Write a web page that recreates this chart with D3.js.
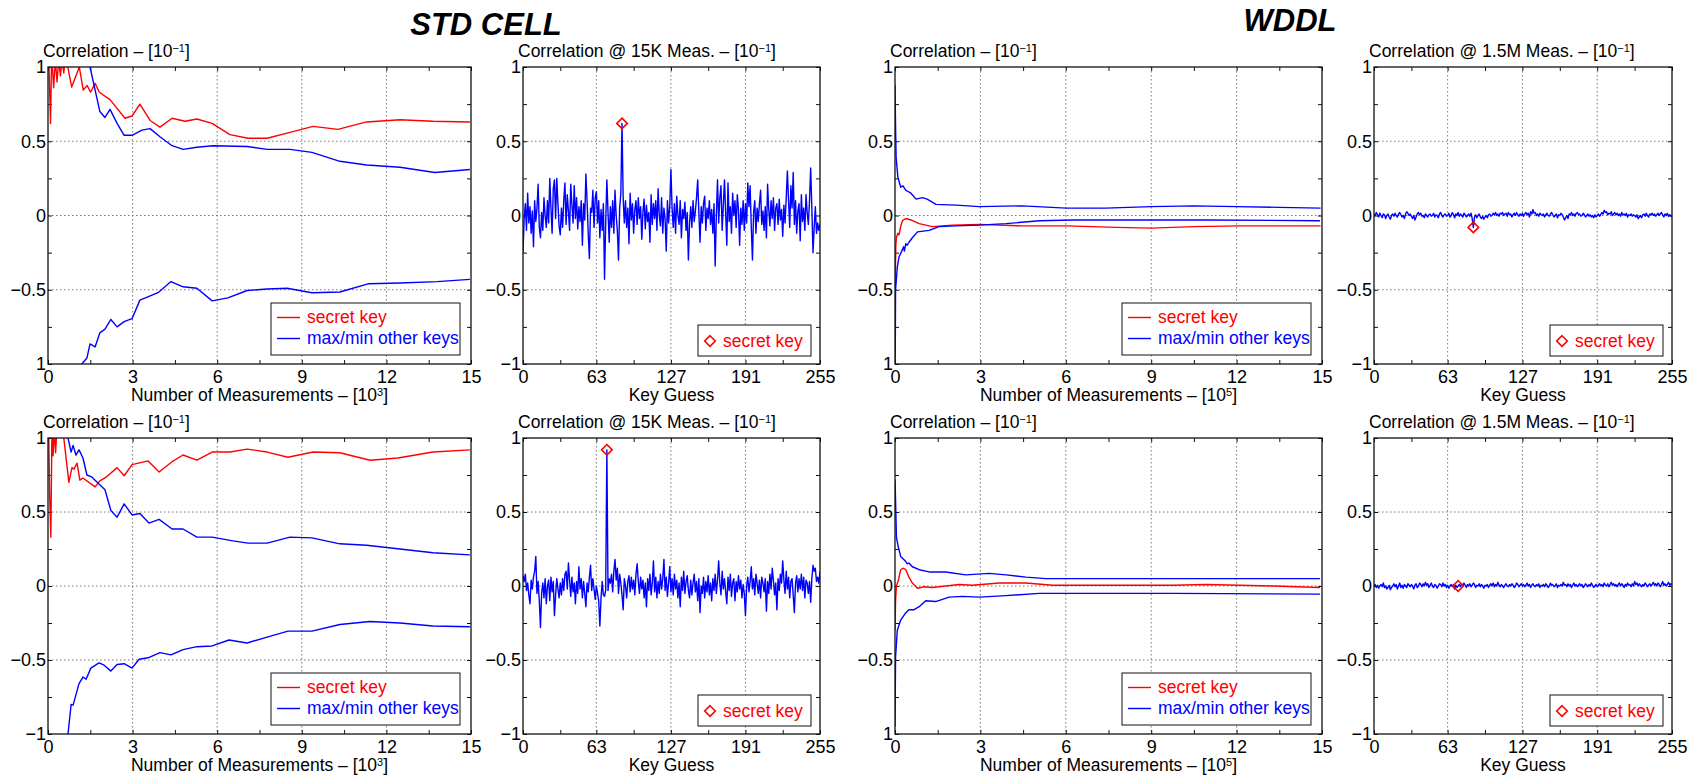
<!DOCTYPE html>
<html>
<head>
<meta charset="utf-8">
<script src="https://cdn.jsdelivr.net/npm/d3@7"></script>
<style>
  body { margin: 0; background: #fff; }
  svg { display: block; font-family: "Liberation Sans", Arial, sans-serif; }
</style>
</head>
<body>
<svg id="chart" width="1690" height="778"></svg>
<script>
/* Correlation vs. number of measurements (left panels) and correlation per key
   guess at the end of the attack (right panels), STD CELL vs WDDL.
   Values are read off the original figure, units of 10^-1. */

// ---- STD CELL, first row: correlation vs measurements [10^3] ----
const stdTopSecret = [[0.02,1.1],[0.09,0.62],[0.13,1.1],[0.2,0.86],[0.26,1.05],[0.32,0.9],[0.38,1.05],[0.44,0.94],[0.5,1.05],[0.56,0.96],[0.62,1.08],[0.84,0.865],[1.11,1.0],[1.25,0.845],[1.39,0.875],[1.51,0.83],[1.67,0.89],[1.82,0.83],[2.2,0.78],[2.73,0.655],[2.98,0.67],[3.26,0.75],[3.62,0.64],[3.97,0.595],[4.4,0.655],[4.86,0.635],[5.28,0.65],[5.82,0.62],[6.45,0.545],[7.09,0.52],[7.77,0.52],[8.58,0.56],[9.4,0.6],[10.28,0.58],[11.3,0.63],[12.48,0.645],[13.65,0.635],[14.96,0.63]];
const stdTopMax = [[1.2,1.15],[1.49,1.0],[1.84,0.7],[2.02,0.66],[2.2,0.715],[2.45,0.62],[2.7,0.54],[2.98,0.54],[3.33,0.575],[3.62,0.585],[3.97,0.53],[4.4,0.47],[4.79,0.445],[5.28,0.46],[5.85,0.47],[7.06,0.465],[7.77,0.445],[8.58,0.445],[9.36,0.425],[10.35,0.365],[11.3,0.34],[12.48,0.325],[13.72,0.29],[14.96,0.31]];
const stdTopMin = [[0.9,-1.2],[1.2,-1.0],[1.38,-0.96],[1.49,-0.865],[1.67,-0.885],[1.84,-0.79],[2.02,-0.765],[2.23,-0.7],[2.45,-0.75],[2.7,-0.715],[2.98,-0.695],[3.26,-0.57],[3.9,-0.52],[4.36,-0.445],[4.79,-0.48],[5.28,-0.49],[5.82,-0.575],[6.38,-0.555],[7.06,-0.505],[7.77,-0.495],[8.48,-0.49],[9.36,-0.52],[10.35,-0.515],[11.35,-0.46],[12.48,-0.455],[13.8,-0.445],[14.96,-0.43]];

// ---- STD CELL, second row ----
const stdBotSecret = [[0.02,1.1],[0.06,0.6],[0.1,0.33],[0.14,1.05],[0.18,0.88],[0.22,1.05],[0.27,0.9],[0.32,1.1],[0.53,1.05],[0.74,0.7],[0.85,0.8],[0.92,0.79],[1.03,0.83],[1.13,0.715],[1.24,0.73],[1.67,0.67],[1.84,0.71],[2.06,0.735],[2.45,0.8],[2.7,0.745],[2.98,0.82],[3.55,0.845],[3.94,0.77],[4.4,0.84],[4.79,0.885],[5.28,0.85],[5.82,0.905],[6.45,0.905],[7.06,0.925],[7.77,0.905],[8.51,0.87],[9.4,0.905],[10.35,0.9],[11.42,0.85],[12.41,0.865],[13.65,0.905],[14.96,0.92]];
const stdBotMax = [[0.6,1.1],[0.71,1.0],[0.82,0.905],[0.89,0.95],[0.99,0.885],[1.1,0.92],[1.24,0.865],[1.38,0.75],[1.56,0.735],[2.02,0.65],[2.23,0.51],[2.45,0.465],[2.7,0.555],[2.98,0.48],[3.26,0.49],[3.58,0.425],[3.94,0.45],[4.4,0.385],[4.79,0.385],[5.28,0.33],[5.82,0.33],[6.56,0.305],[7.09,0.29],[7.77,0.29],[8.58,0.33],[9.36,0.325],[10.35,0.285],[11.3,0.275],[12.48,0.25],[13.65,0.225],[14.96,0.21]];
const stdBotMin = [[0.6,-1.2],[0.71,-1.0],[0.82,-0.8],[0.89,-0.805],[1.1,-0.66],[1.24,-0.615],[1.35,-0.63],[1.52,-0.555],[1.81,-0.52],[1.99,-0.535],[2.23,-0.575],[2.45,-0.53],[2.7,-0.525],[2.98,-0.555],[3.23,-0.495],[3.55,-0.485],[3.97,-0.45],[4.36,-0.465],[4.79,-0.43],[5.28,-0.41],[5.82,-0.405],[6.42,-0.365],[7.06,-0.385],[7.77,-0.345],[8.51,-0.305],[9.36,-0.305],[10.35,-0.26],[11.42,-0.24],[12.48,-0.25],[13.65,-0.27],[14.96,-0.275]];

// ---- WDDL, first row: correlation vs measurements [10^5] ----
const wddlTopSecret = [[0,-0.87],[0.01,-0.4],[0.03,-0.2],[0.05,-0.15],[0.1,-0.12],[0.14,-0.13],[0.2,-0.075],[0.26,-0.035],[0.38,-0.02],[0.56,-0.03],[0.85,-0.055],[1.31,-0.075],[2.02,-0.065],[2.96,-0.06],[4.47,-0.07],[6.02,-0.07],[7.78,-0.08],[9.0,-0.085],[10.5,-0.075],[12.15,-0.07],[14.95,-0.07]];
const wddlTopMax = [[0,0.88],[0.02,0.6],[0.04,0.39],[0.1,0.26],[0.2,0.19],[0.28,0.2],[0.38,0.17],[0.56,0.15],[0.74,0.11],[0.96,0.12],[1.13,0.11],[1.44,0.075],[2.15,0.07],[2.96,0.06],[4.47,0.065],[6.02,0.05],[7.4,0.05],[9.0,0.06],[10.5,0.065],[12.0,0.06],[13.5,0.055],[14.95,0.05]];
const wddlTopMin = [[0,-1.05],[0.01,-0.87],[0.02,-0.5],[0.08,-0.35],[0.14,-0.28],[0.26,-0.23],[0.3,-0.21],[0.33,-0.24],[0.38,-0.19],[0.43,-0.2],[0.49,-0.18],[0.61,-0.15],[0.79,-0.11],[1.2,-0.1],[1.55,-0.075],[2.14,-0.07],[2.96,-0.065],[3.9,-0.055],[5.07,-0.035],[6.25,-0.03],[8.6,-0.03],[10.94,-0.03],[14.93,-0.035]];

// ---- WDDL, second row ----
const wddlBotSecret = [[0,-0.3],[0.02,-0.1],[0.05,0.0],[0.12,0.04],[0.2,0.11],[0.28,0.12],[0.38,0.11],[0.49,0.06],[0.61,0.02],[0.79,-0.015],[1.02,-0.005],[1.31,-0.01],[1.78,0.0],[2.26,0.01],[2.72,0.005],[3.66,0.02],[4.6,0.02],[5.54,0.005],[7.42,0.005],[9.77,0.005],[10.94,0.01],[13.29,0.0],[14.93,-0.01]];
const wddlBotMax = [[0,0.72],[0.02,0.58],[0.05,0.33],[0.12,0.26],[0.2,0.2],[0.38,0.165],[0.43,0.15],[0.49,0.155],[0.61,0.13],[0.85,0.11],[1.2,0.095],[1.78,0.095],[2.49,0.075],[3.31,0.085],[3.9,0.075],[4.6,0.06],[5.3,0.05],[7.42,0.05],[9.77,0.05],[14.93,0.05]];
const wddlBotMin = [[0,-0.95],[0.02,-0.48],[0.08,-0.3],[0.2,-0.23],[0.38,-0.18],[0.49,-0.16],[0.67,-0.16],[0.85,-0.14],[1.08,-0.1],[1.43,-0.105],[1.9,-0.075],[2.37,-0.07],[2.96,-0.075],[3.9,-0.065],[5.07,-0.05],[7.42,-0.05],[9.77,-0.05],[14.93,-0.055]];

// ---- correlation per key guess (0..255) ----
const stdTopKeys = [
  -0.25,-0.02,0.08,-0.1,0.15,-0.05,0.06,-0.12,0.03,-0.21,0.1,-0.04,0.05,0.21,-0.08,-0.15,
  0.02,-0.1,0.12,0.0,-0.08,0.1,-0.05,0.25,0.05,-0.12,0.18,0.24,-0.02,0.25,0.08,-0.07,
  -0.13,0.05,-0.08,0.1,0.22,-0.06,0.14,0.03,-0.1,0.21,0.07,-0.05,0.2,-0.02,0.12,-0.09,
  0.06,-0.04,0.1,-0.2,0.08,-0.03,0.28,0.1,-0.12,-0.29,0.05,0.02,0.17,-0.08,0.12,0.16,
  -0.05,0.1,-0.15,0.04,-0.1,0.08,-0.43,-0.05,0.24,0.02,-0.18,0.06,-0.08,0.1,-0.12,0.17,
  0.0,-0.1,-0.3,0.05,0.15,0.62,0.12,-0.05,0.1,-0.08,0.05,-0.19,0.15,-0.03,0.08,-0.12,
  0.04,0.1,-0.06,0.12,-0.02,0.06,-0.16,0.03,0.11,-0.09,0.07,-0.04,0.02,-0.18,0.14,-0.06,
  0.08,-0.02,0.1,-0.1,0.18,0.0,-0.07,0.12,-0.12,0.05,-0.02,-0.24,0.1,-0.05,0.06,0.31,
  0.05,-0.08,0.08,-0.12,0.13,0.0,-0.06,0.1,-0.15,0.04,-0.02,0.09,-0.1,0.02,-0.3,-0.05,
  0.06,-0.08,0.1,-0.04,0.03,0.12,0.24,0.02,-0.18,0.06,-0.05,0.08,0.13,-0.1,0.05,-0.02,
  0.1,-0.06,0.04,-0.12,0.08,-0.34,0.0,0.24,-0.05,0.12,0.2,-0.1,0.07,0.24,0.02,-0.2,
  0.22,-0.04,0.06,-0.12,0.15,0.0,0.1,-0.08,0.14,0.04,-0.2,0.05,-0.06,0.1,-0.1,0.08,
  -0.05,0.22,0.06,0.2,-0.08,-0.3,0.02,0.1,-0.12,0.05,-0.04,0.08,0.17,-0.06,0.03,-0.1,
  0.06,-0.15,0.21,0.04,-0.07,0.1,-0.02,0.12,-0.1,0.05,0.08,-0.06,0.11,-0.03,0.04,-0.14,
  0.07,-0.05,0.12,0.3,0.1,-0.08,0.2,0.05,0.29,-0.06,0.1,-0.12,0.03,0.08,-0.17,0.14,
  -0.04,0.05,-0.1,0.14,0.02,-0.06,0.1,0.32,0.05,-0.25,-0.08,0.06,-0.12,-0.05,-0.1,-0.06
];
const stdBotKeys = [
  0.07,0.03,0.08,-0.03,0.02,-0.06,-0.12,0.04,-0.02,0.06,0.1,0.2,-0.05,0.03,-0.1,-0.28,
  -0.05,0.02,-0.08,0.05,-0.12,0.0,0.04,-0.1,0.06,-0.04,0.03,-0.2,-0.06,0.05,-0.02,-0.08,
  0.02,-0.06,0.05,-0.03,0.08,0.1,-0.02,0.155,0.04,-0.07,0.06,-0.04,0.02,-0.12,0.03,-0.05,
  0.13,-0.02,0.05,-0.08,0.03,-0.05,-0.14,0.02,-0.04,0.06,0.14,-0.03,0.05,-0.02,-0.09,0.0,
  -0.05,-0.1,-0.27,-0.08,0.03,-0.06,-0.07,-0.03,0.92,-0.03,0.05,0.02,0.08,-0.04,0.1,0.18,
  0.04,0.12,-0.05,0.08,0.02,-0.06,-0.16,0.05,0.0,-0.08,0.03,0.07,-0.04,0.06,-0.02,0.04,
  -0.06,0.08,0.15,0.03,-0.05,0.06,-0.02,0.04,-0.08,0.02,-0.14,0.05,-0.03,0.08,-0.06,0.02,
  0.17,-0.04,0.06,-0.08,0.03,-0.05,0.08,-0.02,0.05,0.18,-0.03,0.06,-0.07,0.02,0.13,-0.04,
  0.05,-0.06,0.08,-0.02,0.04,-0.08,0.02,-0.14,0.06,-0.03,0.1,-0.05,0.03,0.07,-0.03,-0.08,
  0.04,-0.06,0.02,0.08,-0.04,0.03,-0.1,0.05,-0.18,0.0,-0.05,0.06,-0.08,0.03,-0.04,0.07,
  -0.06,0.02,-0.1,0.05,-0.03,0.08,-0.05,0.04,0.17,0.02,-0.06,0.1,-0.02,0.05,-0.04,-0.12,
  0.06,-0.03,0.08,-0.07,0.02,0.05,-0.1,0.03,-0.04,0.07,-0.02,0.04,-0.08,0.01,-0.05,-0.2,
  0.0,0.06,-0.04,0.03,0.13,-0.02,0.05,-0.06,0.08,0.02,-0.05,0.04,-0.08,0.06,0.02,-0.04,
  0.05,-0.17,0.03,-0.05,0.08,-0.02,0.12,0.04,-0.06,0.02,-0.16,0.05,-0.03,0.08,0.02,0.17,
  0.04,-0.05,0.1,-0.02,0.06,-0.08,0.03,0.05,-0.06,-0.18,0.02,0.07,-0.04,0.05,-0.02,0.08,
  -0.03,0.06,-0.08,0.04,0.02,-0.05,0.03,-0.11,0.05,0.14,0.1,0.12,0.03,0.06,0.02,0.1
];
const wddlTopKeys = [
  0.01,0.0,0.02,0.005,-0.01,0.015,0.0,-0.015,0.01,0.005,-0.02,0.0,0.01,-0.01,-0.025,0.0,
  0.01,-0.005,0.015,0.0,-0.01,0.01,0.02,0.005,-0.01,0.0,-0.02,0.01,0.025,0.015,0.0,0.01,
  -0.005,-0.02,0.0,-0.03,-0.01,0.01,0.02,0.005,0.015,-0.005,0.0,-0.015,0.01,0.0,-0.01,0.005,
  0.01,-0.005,0.0,0.015,-0.01,0.005,0.0,-0.015,0.01,0.02,0.0,-0.01,0.005,0.01,-0.005,0.0,
  0.015,-0.01,0.0,0.02,0.005,-0.015,0.01,0.0,0.02,-0.005,0.01,0.0,-0.01,0.015,0.005,-0.01,
  0.0,0.01,-0.005,0.015,-0.02,-0.08,-0.01,0.005,-0.015,0.0,0.01,-0.01,-0.02,-0.005,-0.025,-0.01,
  0.0,-0.015,0.005,0.01,-0.005,0.0,0.015,0.005,0.02,0.0,0.01,-0.005,0.015,0.01,0.02,0.0,
  0.01,0.015,-0.005,0.02,0.005,0.01,-0.01,0.005,0.015,0.0,0.02,0.005,-0.005,0.01,0.0,0.015,
  -0.005,0.01,0.02,0.005,0.015,-0.01,0.025,0.01,0.04,0.015,0.02,0.0,0.01,-0.005,0.015,0.005,
  0.0,0.01,-0.01,0.005,0.015,0.0,-0.005,0.01,0.02,0.005,-0.01,0.0,0.01,-0.015,0.005,0.0,
  0.015,0.005,-0.01,-0.03,-0.015,0.0,-0.02,0.01,0.005,0.02,0.0,0.01,-0.005,0.015,0.02,0.005,
  0.01,-0.005,0.0,0.015,0.005,-0.01,0.0,0.01,-0.005,0.005,-0.01,0.0,-0.015,0.005,-0.01,0.0,
  0.01,-0.005,0.005,0.02,0.01,0.035,0.02,0.025,0.005,0.015,0.01,0.025,0.0,0.01,0.02,0.005,
  0.015,0.0,0.01,-0.005,0.02,0.005,0.01,0.0,0.015,-0.01,0.005,0.0,0.01,-0.005,0.005,0.0,
  -0.01,0.005,-0.02,-0.01,0.0,-0.015,0.005,0.01,-0.005,0.015,0.0,-0.01,0.01,0.005,0.015,0.0,
  0.01,-0.005,0.005,0.015,0.0,0.01,0.02,0.005,-0.01,0.01,0.0,0.015,-0.005,0.005,0.0,-0.01
];
const wddlBotKeys = [
  0.0,0.01,-0.01,0.005,-0.015,0.0,0.01,-0.005,0.02,-0.01,0.0,-0.02,-0.01,0.005,-0.025,-0.01,
  0.0,0.015,-0.005,0.01,-0.02,0.0,0.02,-0.01,0.005,-0.015,0.01,0.0,-0.01,0.015,0.005,-0.005,
  0.01,0.0,-0.02,0.005,0.015,-0.01,0.0,0.02,0.01,-0.005,0.015,0.0,0.025,0.005,0.015,-0.01,
  0.005,0.02,0.0,-0.01,0.01,0.005,-0.015,0.0,0.015,0.01,-0.005,0.02,0.0,0.01,-0.01,0.005,
  -0.015,0.0,0.01,-0.005,0.01,-0.02,0.005,-0.01,0.0,0.01,-0.005,0.015,0.0,0.02,0.005,-0.01,
  0.01,0.0,0.015,-0.005,0.005,0.02,0.01,-0.01,0.005,0.0,0.015,-0.005,0.01,0.0,-0.015,0.005,
  0.0,0.01,-0.01,0.005,0.015,0.0,0.02,-0.005,0.01,0.0,0.025,0.005,-0.005,0.01,0.0,-0.01,
  0.005,0.015,0.0,-0.005,0.01,0.0,0.015,0.005,-0.01,0.0,0.02,0.01,-0.005,0.005,0.015,0.0,
  0.01,-0.005,0.005,0.02,0.0,0.01,-0.01,0.005,0.015,0.0,-0.005,0.01,0.0,0.015,-0.01,0.005,
  0.0,0.01,-0.005,0.015,0.005,-0.01,0.0,0.02,0.005,0.01,-0.005,0.0,0.015,-0.01,0.005,0.0,
  0.01,0.0,0.025,0.005,0.01,-0.005,0.015,0.0,0.01,-0.01,0.005,0.02,0.0,0.01,-0.005,0.005,
  0.015,0.0,0.01,-0.01,0.0,0.015,0.005,-0.005,0.01,0.0,0.02,0.005,-0.01,0.0,0.01,-0.005,
  0.005,0.015,0.0,0.01,-0.005,0.02,0.005,0.0,0.015,-0.005,0.01,0.025,0.005,0.015,0.0,0.01,
  -0.005,0.01,0.02,0.0,0.015,0.005,-0.01,0.01,0.0,0.02,0.005,0.01,-0.005,0.015,0.0,0.03,
  0.01,0.02,0.0,0.015,0.005,-0.005,0.01,0.0,0.02,0.01,-0.005,0.005,0.015,0.0,0.01,0.025,
  0.005,0.015,0.0,0.02,0.01,-0.005,0.01,0.03,0.005,0.015,0.0,0.01,0.025,0.005,0.015,0.01
];

// secret key byte of each row
const secretKeyTop = 85;
const secretKeyBot = 72;

// ticks
const timeTicks = [0, 1.5, 3, 4.5, 6, 7.5, 9, 10.5, 12, 13.5, 15];
const timeGrid = [3, 6, 9, 12];
const keyTicks = [0, 32, 63, 95, 127, 159, 191, 223, 255];
const keyGrid = [63, 127, 191];
const corrTicks = [-1, -0.75, -0.5, -0.25, 0, 0.25, 0.5, 0.75, 1];
const corrGrid = [-0.5, 0, 0.5];
const legendTime = ['secret key', 'max/min other keys'];

const RED = '#ff0000';
const BLUE = '#0000ff';
const FONT = 17.5;
const TICK_FONT = 18;

const svg = d3.select('#chart');
const defs = svg.append('defs');
let clipId = 0;

const diamond = 'M0,-5.3L5.3,0L0,5.3L-5.3,0Z';

// text with a superscript, e.g. "... [10" + "-1" + "]"
function supText(sel, before, sup, after) {
  sel.append('tspan').text(before);
  sel.append('tspan').attr('dy', -5).attr('font-size', 11).text(sup);
  sel.append('tspan').attr('dy', 5).text(after);
}

function fmtCorr(cutMinusOne) {
  return (v) => {
    if (v === 1) return '1';
    if (v === -1) return cutMinusOne ? '1' : '\u22121';
    if (v === 0.5) return '0.5';
    if (v === 0) return '0';
    if (v === -0.5) return '\u22120.5';
    return '';
  };
}

function makePanel(cfg) {
  const x = d3.scaleLinear().domain(cfg.xDomain).range([cfg.left, cfg.right]);
  const y = d3.scaleLinear().domain([-1, 1]).range([cfg.bottom, cfg.top]);
  const g = svg.append('g');

  // grid
  g.selectAll('.gx').data(cfg.xGrid).join('line')
    .attr('x1', (d) => x(d)).attr('x2', (d) => x(d))
    .attr('y1', cfg.top).attr('y2', cfg.bottom)
    .attr('stroke', '#555').attr('stroke-width', 0.8).attr('stroke-dasharray', '1.5,2.5');
  g.selectAll('.gy').data(corrGrid).join('line')
    .attr('y1', (d) => y(d)).attr('y2', (d) => y(d))
    .attr('x1', cfg.left).attr('x2', cfg.right)
    .attr('stroke', '#555').attr('stroke-width', 0.8).attr('stroke-dasharray', '1.5,2.5');

  // axes, ticks inside on all four sides
  const styleAxis = (a) => {
    a.select('.domain').remove();
    a.selectAll('line').attr('stroke', '#111').attr('stroke-width', 1);
    a.selectAll('text').attr('font-size', TICK_FONT).attr('font-family', null).attr('fill', '#000');
  };
  g.append('g').attr('transform', `translate(0,${cfg.bottom})`)
    .call(d3.axisBottom(x).tickValues(cfg.xTicks).tickFormat(cfg.xFormat)
      .tickSizeInner(-4).tickSizeOuter(0).tickPadding(6))
    .call(styleAxis);
  g.append('g').attr('transform', `translate(0,${cfg.top})`)
    .call(d3.axisTop(x).tickValues(cfg.xTicks).tickFormat('').tickSizeInner(-4).tickSizeOuter(0))
    .call(styleAxis);
  g.append('g').attr('transform', `translate(${cfg.left},0)`)
    .call(d3.axisLeft(y).tickValues(corrTicks).tickFormat(fmtCorr(cfg.cutMinusOne))
      .tickSizeInner(-4).tickSizeOuter(0).tickPadding(2))
    .call(styleAxis);
  g.append('g').attr('transform', `translate(${cfg.right},0)`)
    .call(d3.axisRight(y).tickValues(corrTicks).tickFormat('').tickSizeInner(-4).tickSizeOuter(0))
    .call(styleAxis);

  // data, clipped to the box
  const id = 'clip' + clipId++;
  defs.append('clipPath').attr('id', id).append('rect')
    .attr('x', cfg.left).attr('y', cfg.top)
    .attr('width', cfg.right - cfg.left).attr('height', cfg.bottom - cfg.top);
  const plot = g.append('g').attr('clip-path', `url(#${id})`);
  const line = d3.line().x((d) => x(d[0])).y((d) => y(d[1]));
  cfg.series.forEach((s) => {
    plot.append('path').datum(s.data).attr('d', line)
      .attr('fill', 'none').attr('stroke', s.color).attr('stroke-width', 1.4)
      .attr('stroke-linejoin', 'round');
  });
  if (cfg.marker) {
    g.append('path').attr('d', diamond)
      .attr('transform', `translate(${x(cfg.marker[0])},${y(cfg.marker[1])})`)
      .attr('fill', 'none').attr('stroke', RED).attr('stroke-width', 1.6);
  }

  // box
  g.append('rect').attr('x', cfg.left).attr('y', cfg.top)
    .attr('width', cfg.right - cfg.left).attr('height', cfg.bottom - cfg.top)
    .attr('fill', 'none').attr('stroke', '#111').attr('stroke-width', 1.3);

  // labels
  g.append('text').attr('x', cfg.left - 5).attr('y', cfg.top - 10)
    .attr('font-size', FONT).call(supText, cfg.yTitle, '\u22121', ']');
  const xl = g.append('text').attr('x', (cfg.left + cfg.right) / 2).attr('y', cfg.bottom + 37)
    .attr('text-anchor', 'middle').attr('font-size', FONT);
  if (cfg.xSup) supText(xl, cfg.xTitle, cfg.xSup, ']');
  else xl.text(cfg.xTitle);

  // legend, lower right
  if (cfg.legend === 'time') {
    const w = 189, h = 52, lx = cfg.right - 11 - w, ly = cfg.bottom - 9 - h;
    g.append('rect').attr('x', lx).attr('y', ly).attr('width', w).attr('height', h)
      .attr('fill', '#fff').attr('stroke', '#111').attr('stroke-width', 1);
    legendTime.forEach((t, i) => {
      const c = i === 0 ? RED : BLUE;
      g.append('line').attr('x1', lx + 6).attr('x2', lx + 29)
        .attr('y1', ly + 14.5 + i * 21).attr('y2', ly + 14.5 + i * 21)
        .attr('stroke', c).attr('stroke-width', 1.4);
      g.append('text').attr('x', lx + 36).attr('y', ly + 20 + i * 21)
        .attr('font-size', FONT).attr('fill', c).text(t);
    });
  } else {
    const w = 113, h = 31, lx = cfg.right - 9 - w, ly = cfg.bottom - 8 - h;
    g.append('rect').attr('x', lx).attr('y', ly).attr('width', w).attr('height', h)
      .attr('fill', '#fff').attr('stroke', '#111').attr('stroke-width', 1);
    g.append('path').attr('d', diamond).attr('transform', `translate(${lx + 12},${ly + 16})`)
      .attr('fill', 'none').attr('stroke', RED).attr('stroke-width', 1.6);
    g.append('text').attr('x', lx + 25).attr('y', ly + 22)
      .attr('font-size', FONT).attr('fill', RED).text(legendTime[0]);
  }
}

const rows = [{ top: 67, bottom: 364 }, { top: 438, bottom: 734 }];
const keyData = (vals) => vals.map((v, k) => [k, v]);
const timeFmt = (v) => (Number.isInteger(v) && v % 3 === 0 ? String(v) : '');
const keyFmt = (v) => (keyGrid.includes(v) || v === 0 || v === 255 ? String(v) : '');

const panels = [
  { col: [48, 471], row: 0, kind: 'time', exp: '3', cut: true, sec: stdTopSecret, max: stdTopMax, min: stdTopMin },
  { col: [523, 820], row: 0, kind: 'key', meas: '15K', keys: stdTopKeys, secret: secretKeyTop },
  { col: [895, 1322], row: 0, kind: 'time', exp: '5', cut: true, sec: wddlTopSecret, max: wddlTopMax, min: wddlTopMin },
  { col: [1374, 1672], row: 0, kind: 'key', meas: '1.5M', keys: wddlTopKeys, secret: secretKeyTop },
  { col: [48, 471], row: 1, kind: 'time', exp: '3', cut: false, sec: stdBotSecret, max: stdBotMax, min: stdBotMin },
  { col: [523, 820], row: 1, kind: 'key', meas: '15K', keys: stdBotKeys, secret: secretKeyBot },
  { col: [895, 1322], row: 1, kind: 'time', exp: '5', cut: true, sec: wddlBotSecret, max: wddlBotMax, min: wddlBotMin },
  { col: [1374, 1672], row: 1, kind: 'key', meas: '1.5M', keys: wddlBotKeys, secret: secretKeyBot },
];

panels.forEach((p) => {
  const base = { left: p.col[0], right: p.col[1], top: rows[p.row].top, bottom: rows[p.row].bottom };
  if (p.kind === 'time') {
    makePanel(Object.assign(base, {
      xDomain: [0, 15], xTicks: timeTicks, xGrid: timeGrid, xFormat: timeFmt,
      cutMinusOne: p.cut,
      yTitle: 'Correlation \u2013 [10',
      xTitle: 'Number of Measurements \u2013 [10', xSup: p.exp,
      series: [{ data: p.sec, color: RED }, { data: p.max, color: BLUE }, { data: p.min, color: BLUE }],
      legend: 'time',
    }));
  } else {
    makePanel(Object.assign(base, {
      xDomain: [0, 255], xTicks: keyTicks, xGrid: keyGrid, xFormat: keyFmt,
      cutMinusOne: false,
      yTitle: `Correlation @ ${p.meas} Meas. \u2013 [10`,
      xTitle: 'Key Guess',
      series: [{ data: keyData(p.keys), color: BLUE }],
      marker: [p.secret, p.keys[p.secret]],
      legend: 'key',
    }));
  }
});

// group titles
svg.append('text').attr('x', 486).attr('y', 35).attr('text-anchor', 'middle')
  .attr('font-size', 31).attr('font-weight', 'bold').attr('font-style', 'italic').text('STD CELL');
svg.append('text').attr('x', 1290).attr('y', 31).attr('text-anchor', 'middle')
  .attr('font-size', 31).attr('font-weight', 'bold').attr('font-style', 'italic').text('WDDL');
</script>
</body>
</html>
